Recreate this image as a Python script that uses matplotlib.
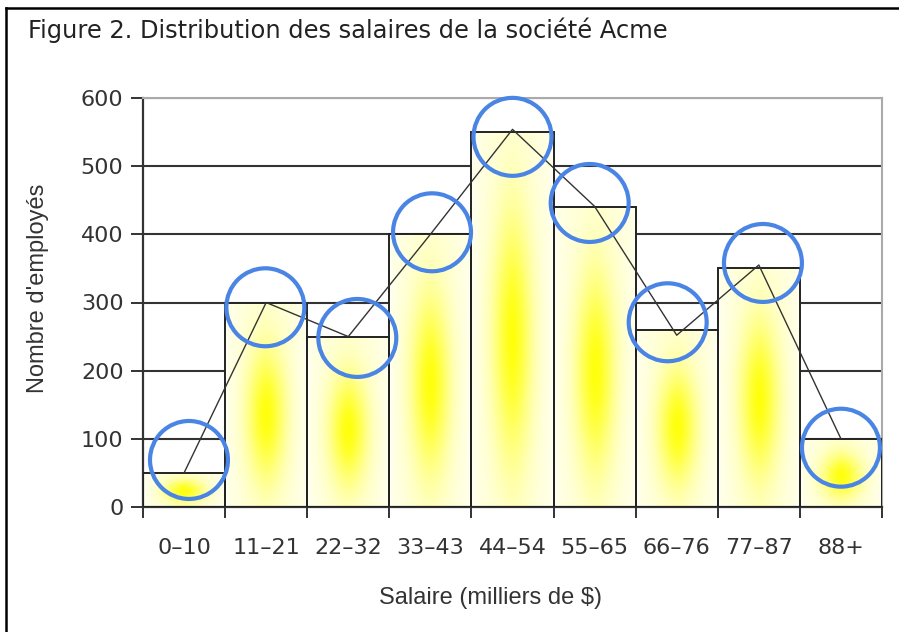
import matplotlib.pyplot as plt
import numpy as np
from matplotlib.patches import Rectangle
from matplotlib.lines import Line2D

categories = ["0\u201310", "11\u201321", "22\u201332", "33\u201343", "44\u201354",
              "55\u201365", "66\u201376", "77\u201387", "88+"]
counts = [50, 300, 250, 400, 550, 440, 260, 350, 100]
polygon = [50, 300, 250, 400, 554, 441, 252, 355, 100]
# blue hand-drawn circles (x in bar index, y in employees)
circle_x = [0.06, 0.99, 2.11, 3.02, 4.0, 4.94, 5.89, 7.05, 8.0]
circle_y = [69, 293, 248, 403, 543, 446, 271, 358, 87]
yticks = [0, 100, 200, 300, 400, 500, 600]

fig = plt.figure(figsize=(8.99, 6.32), dpi=100)
ax = fig.add_axes([143/899, 1-507/632, 739/899, 409/632])

x = np.arange(len(categories))

# gradient fill for each bar: pale at the edges, yellow blob in the middle
nx, ny = 60, 120
gx = np.linspace(-1, 1, nx)
gy = np.linspace(0, 1, ny)
GX, GY = np.meshgrid(gx, gy)
w = 0.95*np.exp(-(GX/0.5)**2 - ((GY-0.45)/0.32)**2)
base = np.array([1.0, 1.0, 0.84])
yel = np.array([1.0, 1.0, 0.0])
img = base*(1-w[..., None]) + yel*w[..., None]
edge = np.clip(1 - np.abs(GX), 0, 1)**0.25
img = img*edge[..., None] + np.array([1, 1, 1])*(1-edge[..., None])

for xi, c in zip(x, counts):
    ax.imshow(img, extent=[xi-0.5, xi+0.5, 0, c], origin="lower",
              aspect="auto", zorder=2, interpolation="bilinear")
    ax.add_patch(Rectangle((xi-0.5, 0), 1, c, fill=False, edgecolor="#222222",
                           lw=1.4, zorder=3))

ax.plot(x, polygon, color="#333333", lw=1.0, zorder=4)

ax.scatter(circle_x, circle_y, s=3150, facecolors="none", edgecolors="#4a84e4",
           linewidths=3.0, zorder=5, clip_on=False)

ax.set_xlim(-0.5, 8.5)
ax.set_ylim(0, 600)
ax.set_yticks(yticks)
ax.set_xticks(x)
ax.set_xticklabels(categories)
ax.set_xticks(np.arange(-0.5, 9, 1), minor=True)
ax.tick_params(axis="x", which="major", length=0, pad=22, labelsize=16,
               labelcolor="#333333")
ax.tick_params(axis="x", which="minor", length=8, width=1.4, color="#333333")
ax.tick_params(axis="y", length=9, width=1.4, color="#333333", pad=5,
               labelsize=16, labelcolor="#333333")
ax.grid(axis="y", color="#333333", lw=1.5, zorder=0)
ax.set_axisbelow(True)
for s in ["left", "bottom"]:
    ax.spines[s].set_color("#333333")
    ax.spines[s].set_linewidth(1.6)
for s in ["top", "right"]:
    ax.spines[s].set_color("#aaaaaa")
    ax.spines[s].set_linewidth(1.5)

ax.set_ylabel("Nombre d'employés", fontsize=17, family="Liberation Sans",
              color="#333333")
ax.set_xlabel("Salaire (milliers de $)", fontsize=17, family="Liberation Sans",
              color="#333333")
ax.yaxis.set_label_coords(-94/739, 0.535)
ax.xaxis.set_label_coords(0.47, -80/409)

fig.text(28/899, 1-30/632, "Figure 2. Distribution des salaires de la société Acme",
         fontsize=17.4, color="#222222", va="center", ha="left")

# outer frame (top and left edges)
fig.add_artist(Line2D([6/899, 6/899], [0, 1-8/632], transform=fig.transFigure,
                      color="black", lw=1.8))
fig.add_artist(Line2D([6/899, 1], [1-8/632, 1-8/632], transform=fig.transFigure,
                      color="black", lw=1.8))

fig.savefig("out.png", dpi=100)
